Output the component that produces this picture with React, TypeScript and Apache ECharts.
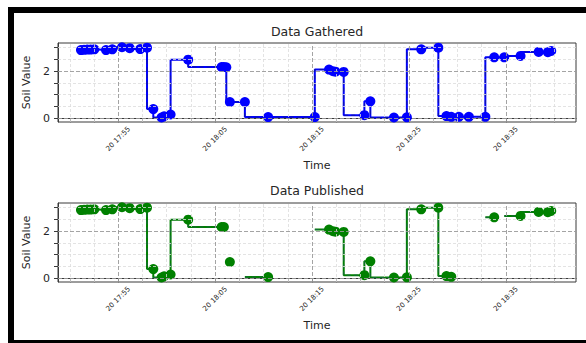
import React, { useEffect, useRef } from 'react';
import * as echarts from 'echarts';

// Sample times (20th, hh:mm:ss)
const times = [
  '17:51:09', '17:51:28', '17:51:48', '17:52:09', '17:52:32', '17:53:44', '17:54:23', '17:55:23',
  '17:56:11', '17:57:16', '17:57:58', '17:58:37', '17:59:28', '17:59:44', '18:00:24', '18:02:13',
  '18:05:40', '18:05:54', '18:06:09', '18:06:31', '18:08:04', '18:10:28', '18:15:17', '18:16:45',
  '18:17:10', '18:17:25', '18:18:16', '18:20:24', '18:21:01', '18:23:27', '18:24:47', '18:26:16',
  '18:28:02', '18:28:52', '18:29:22', '18:30:09', '18:31:11', '18:32:53', '18:33:48', '18:34:50',
  '18:36:31', '18:38:23', '18:39:20', '18:39:41',
];

const gathered = [
  2.9, 2.91, 2.92, 2.92, 2.93, 2.9, 2.93, 3.02,
  2.98, 2.94, 3.0, 0.39, 0.03, 0.08, 0.16, 2.49,
  2.18, 2.18, 2.17, 0.69, 0.69, 0.05, 0.05, 2.07,
  2.0, 1.98, 1.97, 0.13, 0.72, 0.03, 0.04, 2.93,
  3.0, 0.09, 0.06, 0.06, 0.06, 0.06, 2.59, 2.59,
  2.65, 2.82, 2.81, 2.86,
];

const published: (number | null)[] = [
  2.9, 2.91, 2.92, 2.92, 2.93, 2.9, 2.93, 3.02,
  2.98, 2.94, 3.0, 0.39, 0.03, 0.08, 0.16, 2.49,
  2.18, 2.18, null, 0.69, null, 0.05, null, 2.07,
  2.0, 1.98, 1.97, 0.13, 0.72, 0.03, 0.04, 2.93,
  3.0, 0.09, 0.06, null, null, null, 2.59, null,
  2.65, 2.82, 2.81, 2.86,
];

const xTickLabels = ['20 17:55', '20 18:05', '20 18:15', '20 18:25', '20 18:35'];
const yTickLabels = ['0', '2'];
const titles = ['Data Gathered', 'Data Published'];

const FONT = 'DejaVu Sans';
const TEXT = '#262626';

function toMin(s: string): number {
  const [h, m, sec] = s.split(':').map(Number);
  return (h - 17) * 60 + m + sec / 60;
}
function labelToMin(l: string): number {
  return toMin(l.split(' ')[1] + ':00');
}

function stepPre(xs: number[], ys: (number | null)[]) {
  const out: any[] = [];
  for (let i = 0; i < xs.length; i++) {
    out.push([xs[i], ys[i] == null ? '-' : ys[i]]);
    if (i < xs.length - 1) out.push([xs[i], ys[i + 1] == null ? '-' : ys[i + 1]]);
  }
  return out;
}

export default function App() {
  const ref = useRef<HTMLDivElement>(null);
  useEffect(() => {
    if (!ref.current) return;
    const chart = echarts.init(ref.current, undefined, { renderer: 'svg' });
    const xs = times.map(toMin);
    const xMajor = xTickLabels.map(labelToMin);
    const xAll: number[] = [];
    for (let v = 50; v <= 100.01; v += 2.5) xAll.push(v);
    const xMinor = xAll.filter((v) => !xMajor.some((m) => Math.abs(m - v) < 1e-6));
    const yMajor = yTickLabels.map(Number);
    const yAll = [0, 0.5, 1, 1.5, 2, 2.5, 3];
    const yMinor = yAll.filter((v) => !yMajor.includes(v));
    const xMin = 48.78, xMax = 102.24, yMin = -0.16, yMax = 3.2;
    const labelMap: Record<string, string> = {};
    xMajor.forEach((m, i) => (labelMap[m.toFixed(2)] = xTickLabels[i]));

    const tops = [43, 203];
    const grids = tops.map((t) => ({
      left: 58, top: t, width: 518, height: 79, show: true,
      borderColor: '#3a3a3a', borderWidth: 1, backgroundColor: 'transparent',
    }));
    const xAxes = tops.map((_, i) => ({
      type: 'value', gridIndex: i, min: xMin, max: xMax,
      name: 'Time', nameLocation: 'middle', nameGap: 38,
      nameTextStyle: { fontFamily: FONT, fontSize: 11, color: TEXT },
      axisLine: { show: true, lineStyle: { color: '#3a3a3a' } },
      axisTick: { show: true, customValues: xAll, length: 4, lineStyle: { color: '#3a3a3a' } },
      axisLabel: {
        customValues: xMajor, rotate: 45, align: 'center', verticalAlign: 'middle', margin: 17,
        fontFamily: FONT, fontSize: 7, color: TEXT,
        formatter: (v: number) => labelMap[v.toFixed(2)] ?? '',
      },
      splitLine: { show: false },
    }));
    const yAxes = tops.map((_, i) => ({
      type: 'value', gridIndex: i, min: yMin, max: yMax,
      name: 'Soil Value', nameLocation: 'middle', nameGap: 20,
      nameTextStyle: { fontFamily: FONT, fontSize: 11, color: TEXT },
      axisLine: { show: true, lineStyle: { color: '#3a3a3a' } },
      axisTick: { show: true, customValues: yAll, length: 4, lineStyle: { color: '#3a3a3a' } },
      axisLabel: { customValues: yMajor, margin: 8, fontFamily: FONT, fontSize: 11, color: TEXT,
        formatter: (v: number) => String(Math.round(v)) },
      splitLine: { show: false },
    }));

    const gridLines = (i: number) => ({
      type: 'line', xAxisIndex: i, yAxisIndex: i, data: [], z: 1, silent: true,
      markLine: {
        silent: true, symbol: ['none', 'none'], label: { show: false }, animation: false,
        data: [
          ...xMinor.map((v) => ({ xAxis: v, lineStyle: { color: '#dcdcdc', width: 0.8, type: [3, 2] } })),
          ...yMinor.map((v) => ({ yAxis: v, lineStyle: { color: '#dcdcdc', width: 0.8, type: [3, 2] } })),
          ...xMajor.map((v) => ({ xAxis: v, lineStyle: { color: '#9a9a9a', width: 0.9, type: [4, 2] } })),
          ...yMajor.map((v) => ({ yAxis: v, lineStyle: { color: '#9a9a9a', width: 0.9, type: [4, 2] } })),
        ],
      },
    });

    const datasets = [
      { ys: gathered as (number | null)[], color: '#0000ff', dash: '#14207a' },
      { ys: published, color: '#008000', dash: '#1f5f55' },
    ];
    const series: any[] = [];
    datasets.forEach((d, i) => {
      series.push(gridLines(i));
      const stepData = stepPre(xs, d.ys);
      series.push({
        type: 'line', xAxisIndex: i, yAxisIndex: i, data: stepData, showSymbol: false,
        connectNulls: false, z: 2, lineStyle: { color: d.color, width: 2 }, silent: true,
      });
      series.push({
        type: 'line', xAxisIndex: i, yAxisIndex: i, data: stepData, showSymbol: false,
        connectNulls: false, z: 3, lineStyle: { color: d.dash, width: 1, type: [4, 3], opacity: 0.7 }, silent: true,
      });
      series.push({
        type: 'scatter', xAxisIndex: i, yAxisIndex: i, z: 4, symbol: 'circle', symbolSize: 10,
        itemStyle: { color: d.color, opacity: 1, borderWidth: 0 },
        data: xs.map((x, k) => [x, d.ys[k]]).filter((p) => p[1] != null),
      });
    });

    chart.setOption({
      animation: false,
      grid: grids,
      xAxis: xAxes,
      yAxis: yAxes,
      series,
      graphic: [
        { type: 'rect', shape: { x: 8, y: 7, width: 6, height: 336 }, style: { fill: '#000' } },
        { type: 'rect', shape: { x: 8, y: 7, width: 578, height: 6 }, style: { fill: '#000' } },
        { type: 'rect', shape: { x: 8, y: 340, width: 578, height: 3 }, style: { fill: '#000' } },
        ...titles.map((t, i) => ({
          type: 'text', x: 317, y: [31, 190][i],
          style: { text: t, fontFamily: FONT, fontSize: 12.5, fill: TEXT, textAlign: 'center', textVerticalAlign: 'middle' },
        })),
      ],
    });
    return () => chart.dispose();
  }, []);
  return (
    <div
      ref={ref}
      style={{ position: 'absolute', left: 0, top: 0, width: 586, height: 343, background: '#fff' }}
    />
  );
}
